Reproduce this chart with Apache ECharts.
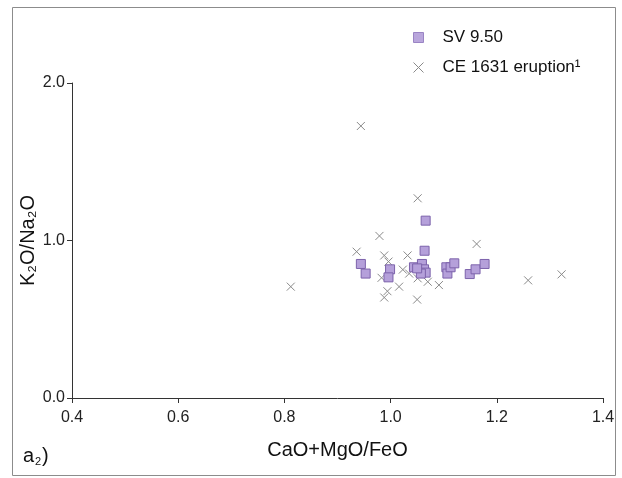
<!DOCTYPE html>
<html>
<head>
<meta charset="utf-8">
<script src="https://cdn.jsdelivr.net/npm/echarts@6/dist/echarts.min.js"></script>
<style>
html,body{margin:0;padding:0;background:#fff;}
#c{width:622px;height:478px;}
</style>
</head>
<body>
<div id="c"></div>
<script>
// Data
var xTicks = [0.4, 0.6, 0.8, 1.0, 1.2, 1.4];
var yTicks = [0.0, 1.0, 2.0];
var svName = 'SV 9.50';
var ceName = 'CE 1631 eruption\u00B9';
var svX = [1.066, 1.064, 0.944, 0.953, 0.999, 0.996, 1.044, 1.059, 1.063, 1.066, 1.057, 1.050, 1.105, 1.107, 1.113, 1.120, 1.149, 1.160, 1.177];
var svY = [1.126, 0.935, 0.851, 0.790, 0.817, 0.766, 0.830, 0.851, 0.817, 0.796, 0.790, 0.823, 0.830, 0.790, 0.830, 0.855, 0.787, 0.817, 0.851];
var ceX = [0.944, 1.051, 0.979, 0.936, 0.988, 0.996, 1.032, 1.023, 1.035, 0.983, 1.016, 0.994, 0.988, 1.050, 1.070, 1.091, 1.162, 1.259, 1.322, 0.812, 1.051];
var ceY = [1.727, 1.268, 1.029, 0.929, 0.905, 0.866, 0.905, 0.815, 0.790, 0.763, 0.707, 0.678, 0.638, 0.625, 0.738, 0.717, 0.978, 0.747, 0.785, 0.707, 0.760];

function pairs(xs, ys) { return xs.map(function (x, i) { return [x, ys[i]]; }); }

var chart = echarts.init(document.getElementById('c'), null, {renderer: 'canvas'});
var font = 'Liberation Sans, Arial, sans-serif';
var crossPath = 'path://M0,0L10,10M10,0L0,10';

chart.setOption({
  animation: false,
  backgroundColor: '#fff',
  textStyle: {fontFamily: font},
  grid: {left: 72, right: 19, top: 83, bottom: 80},
  legend: {
    orient: 'vertical',
    left: 413,
    top: 29,
    padding: 0,
    itemGap: 13,
    itemWidth: 10,
    itemHeight: 10,
    textStyle: {fontSize: 17, color: '#111', fontFamily: font, padding: [0, 0, 0, 14]},
    data: [
      {name: svName, icon: 'rect', itemStyle: {color: '#b9a6dc', borderColor: '#9a84c4', borderWidth: 1}},
      {name: ceName, icon: crossPath, itemStyle: {color: 'transparent', borderColor: '#8a8a8a', borderWidth: 1}}
    ]
  },
  xAxis: {
    type: 'value',
    min: xTicks[0], max: xTicks[xTicks.length - 1], interval: 0.2,
    name: 'CaO+MgO/FeO', nameLocation: 'middle', nameGap: 42, nameMoveOverlap: false,
    nameTextStyle: {fontSize: 20, color: '#111', fontFamily: font},
    axisLine: {show: true, lineStyle: {color: '#333', width: 1}},
    axisTick: {show: true, length: 5, lineStyle: {color: '#333'}},
    axisLabel: {fontSize: 16, color: '#222', margin: 12, formatter: function (v) { return v.toFixed(1); }},
    splitLine: {show: false}
  },
  yAxis: {
    type: 'value',
    min: yTicks[0], max: yTicks[yTicks.length - 1], interval: 1,
    name: 'K\u2082O/Na\u2082O', nameLocation: 'middle', nameGap: 34, nameRotate: 90, nameMoveOverlap: false,
    nameTextStyle: {fontSize: 20, color: '#111', fontFamily: font},
    axisLine: {show: true, lineStyle: {color: '#333', width: 1}},
    axisTick: {show: true, length: 5, lineStyle: {color: '#333'}},
    axisLabel: {fontSize: 16, color: '#222', margin: 7, formatter: function (v) { return v.toFixed(1); }},
    splitLine: {show: false}
  },
  graphic: [
    {type: 'rect', shape: {x: 12.5, y: 7.5, width: 603, height: 468}, style: {fill: 'none', stroke: '#8c8c8c', lineWidth: 1}, silent: true},
    {type: 'text', left: 23, top: 446, style: {text: 'a', fontSize: 20, fill: '#111', fontFamily: font}},
    {type: 'text', left: 35, top: 456, style: {text: '2', fontSize: 11, fill: '#111', fontFamily: font}},
    {type: 'text', left: 42, top: 446, style: {text: ')', fontSize: 20, fill: '#111', fontFamily: font}}
  ],
  series: [
    {
      name: ceName, type: 'scatter', symbol: crossPath, symbolSize: 8,
      itemStyle: {color: 'transparent', borderColor: '#8a8a8a', borderWidth: 1, opacity: 1},
      data: pairs(ceX, ceY), z: 2
    },
    {
      name: svName, type: 'scatter', symbol: 'rect', symbolSize: 9,
      itemStyle: {color: '#b5a0da', borderColor: '#7c62ab', borderWidth: 1, opacity: 1},
      data: pairs(svX, svY), z: 3
    }
  ]
});
</script>
</body>
</html>
